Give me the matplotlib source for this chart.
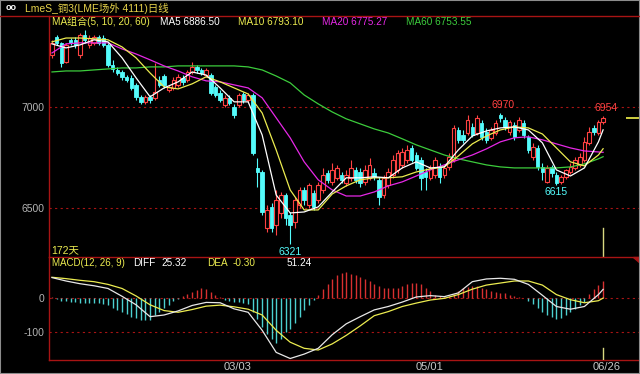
import numpy as np
import matplotlib
matplotlib.use("Agg")
import matplotlib.pyplot as plt
from matplotlib.patches import Rectangle, Polygon
from matplotlib.lines import Line2D

plt.rcParams['font.family'] = ['Liberation Sans', 'Noto Sans CJK SC', 'DejaVu Sans']
plt.rcParams['axes.unicode_minus'] = False

# daily candles, LME copper 3M (one value per trading day)
opens = [7257, 7346, 7317, 7223, 7332, 7332, 7257, 7356, 7307, 7317,
         7346, 7341, 7307, 7208, 7183, 7173, 7149, 7144, 7109, 7050,
         7025, 7050, 7045, 7134, 7153, 7084, 7094, 7109, 7144, 7134,
         7173, 7198, 7183, 7158, 7158, 7099, 7069, 7010, 7045, 7000,
         7010, 7064, 7035, 7059, 6698, 6678, 6401, 6505, 6416, 6475,
         6564, 6465, 6431, 6515, 6589, 6515, 6574, 6540, 6589, 6673,
         6629, 6649, 6663, 6624, 6649, 6688, 6678, 6629, 6649, 6673,
         6639, 6564, 6614, 6663, 6688, 6713, 6738, 6797, 6762, 6738,
         6678, 6649, 6663, 6703, 6663, 6703, 6738, 6886, 6861, 6871,
         6901, 6871, 6921, 6876, 6847, 6871, 6960, 6936, 6876, 6911,
         6886, 6921, 6852, 6753, 6797, 6703, 6629, 6703, 6663, 6629,
         6654, 6678, 6698, 6713, 6738, 6822, 6896, 6871, 6926]
closes = [7317, 7317, 7218, 7307, 7317, 7307, 7356, 7332, 7341, 7346,
          7317, 7307, 7208, 7188, 7168, 7149, 7134, 7094, 7050, 7025,
          7050, 7035, 7074, 7109, 7109, 7099, 7134, 7149, 7124, 7173,
          7198, 7183, 7168, 7183, 7069, 7059, 7035, 7045, 7020, 6960,
          7059, 7035, 7059, 6772, 6678, 6480, 6490, 6401, 6540, 6564,
          6450, 6416, 6540, 6589, 6540, 6614, 6505, 6614, 6663, 6639,
          6688, 6698, 6639, 6663, 6698, 6639, 6624, 6688, 6713, 6654,
          6555, 6649, 6678, 6738, 6772, 6777, 6787, 6738, 6698, 6649,
          6654, 6698, 6738, 6654, 6698, 6753, 6896, 6837, 6837, 6936,
          6861, 6946, 6852, 6837, 6886, 6921, 6946, 6901, 6926, 6852,
          6936, 6861, 6787, 6802, 6703, 6678, 6698, 6673, 6624, 6654,
          6688, 6703, 6738, 6753, 6827, 6876, 6876, 6926, 6946]
highs = [7332, 7356, 7322, 7317, 7341, 7346, 7366, 7381, 7356, 7356,
         7356, 7356, 7317, 7233, 7198, 7183, 7158, 7158, 7119, 7059,
         7059, 7059, 7218, 7153, 7163, 7109, 7149, 7163, 7158, 7183,
         7223, 7208, 7193, 7193, 7168, 7109, 7084, 7059, 7059, 7015,
         7069, 7074, 7069, 7069, 6748, 6688, 6515, 6525, 6589, 6579,
         6574, 6480, 6555, 6604, 6604, 6624, 6589, 6629, 6698, 6688,
         6723, 6713, 6678, 6688, 6738, 6703, 6698, 6713, 6748, 6698,
         6654, 6663, 6698, 6762, 6787, 6797, 6812, 6812, 6777, 6753,
         6698, 6713, 6753, 6723, 6713, 6772, 6911, 6901, 6886, 6960,
         6921, 6960, 6936, 6896, 6901, 6936, 6970, 6951, 6936, 6926,
         6951, 6936, 6861, 6822, 6812, 6723, 6713, 6713, 6678, 6663,
         6693, 6723, 6753, 6772, 6852, 6901, 6911, 6936, 6954]
lows = [7243, 7307, 7198, 7218, 7307, 7292, 7243, 7317, 7292, 7307,
        7307, 7297, 7198, 7173, 7158, 7134, 7124, 7084, 7035, 7015,
        7015, 7020, 7035, 7099, 7094, 7074, 7084, 7099, 7109, 7124,
        7163, 7168, 7158, 7149, 7059, 7050, 7025, 7000, 7010, 6946,
        7000, 7020, 7025, 6762, 6604, 6465, 6381, 6381, 6366, 6450,
        6416, 6321, 6401, 6500, 6515, 6500, 6490, 6525, 6574, 6624,
        6614, 6639, 6624, 6609, 6634, 6624, 6604, 6614, 6639, 6639,
        6515, 6550, 6599, 6649, 6673, 6698, 6723, 6728, 6688, 6589,
        6589, 6639, 6649, 6624, 6649, 6688, 6728, 6822, 6822, 6861,
        6852, 6861, 6837, 6822, 6837, 6861, 6926, 6886, 6861, 6837,
        6876, 6847, 6772, 6738, 6688, 6639, 6624, 6654, 6615, 6619,
        6644, 6668, 6688, 6703, 6728, 6812, 6861, 6861, 6916]

# indicator lines read every 3 trading days (plus the last day)
line_days = list(range(0, 118, 3)) + [118]
ma5 = [7312, 7292, 7307, 7332, 7322, 7243, 7144, 7050, 7094, 7124,
       7173, 7158, 7094, 7025, 7025, 6861, 6564, 6475, 6480, 6505,
       6579, 6649, 6649, 6654, 6649, 6698, 6728, 6698, 6703, 6787,
       6856, 6881, 6896, 6901, 6886, 6822, 6688, 6658, 6698, 6827, 6886.5]
ma10 = [7322, 7341, 7341, 7337, 7332, 7297, 7243, 7168, 7099, 7089,
        7114, 7149, 7124, 7094, 7064, 6970, 6787, 6589, 6490, 6490,
        6569, 6609, 6639, 6649, 6649, 6654, 6678, 6693, 6703, 6757,
        6817, 6856, 6886, 6901, 6896, 6866, 6797, 6728, 6708, 6762, 6793.1]
ma20 = [7267, 7312, 7317, 7317, 7317, 7287, 7262, 7233, 7203, 7178,
        7149, 7129, 7124, 7109, 7094, 7045, 6946, 6847, 6728, 6639,
        6589, 6559, 6559, 6579, 6609, 6629, 6658, 6688, 6713, 6738,
        6762, 6792, 6827, 6847, 6852, 6837, 6817, 6797, 6782, 6777, 6775.27]
ma60 = [7173, 7178, 7178, 7183, 7188, 7193, 7193, 7198, 7198, 7203,
        7203, 7203, 7203, 7203, 7198, 7183, 7153, 7119, 7059, 7015,
        6975, 6941, 6916, 6891, 6871, 6842, 6812, 6787, 6762, 6743,
        6728, 6713, 6703, 6698, 6698, 6698, 6698, 6703, 6718, 6743, 6753.55]
diff = [60, 50, 42, 36, 28, 5, -20, -55, -50, -38,
        -22, -13, -14, -32, -42, -95, -160, -178, -165, -148,
        -108, -76, -55, -35, -25, -12, 3, 7, 4, 15,
        48, 56, 58, 55, 40, 8, -25, -33, -25, 10, 25.32]
dea = [61, 57, 52, 48, 40, 28, 6, -20, -37, -42,
       -34, -24, -21, -26, -33, -50, -95, -130, -148, -153,
       -135, -110, -82, -52, -40, -25, -15, -6, -1, 10,
       26, 38, 44, 50, 50, 38, 10, -5, -14, -8, -0.30]
macd_bar = [2, -3, -8, -10, -12, -13, -14, -14, -15, -14,
            -15, -17, -22, -28, -35, -42, -48, -55, -60, -65,
            -66, -64, -50, -40, -30, -20, -10, -3, 5, 12,
            18, 24, 28, 26, 18, 10, 4, -5, -10, -12,
            -12, -14, -18, -40, -62, -85, -105, -122, -132, -120,
            -100, -90, -75, -55, -35, -20, -5, 8, 25, 40,
            55, 68, 75, 76, 72, 68, 62, 55, 50, 42,
            35, 30, 28, 28, 30, 35, 42, 45, 45, 40,
            30, 20, 10, 6, 4, 5, 12, 20, 28, 33,
            36, 35, 30, 25, 20, 18, 16, 14, 10, 6,
            4, 0, -8, -18, -30, -40, -50, -56, -62, -58,
            -50, -42, -32, -22, -12, 12, 25, 38, 51.24]

date_ticks = [39, 80, 118]
date_labels = ['03/03', '05/01', '06/26']
marked = [(96, 'high'), (118, 'high'), (108, 'low'), (51, 'low')]

RED = '#ff4242'
CYAN = '#54fcfc'
FRAME = '#a81414'
YEL = '#ecec50'
MAG = '#e628e6'
GRN = '#3ccc3c'
GREY = '#b4b4b4'

W, H = 640, 374
fig = plt.figure(figsize=(6.4, 3.74), dpi=100, facecolor='black')


def fpos(x0, y0, x1, y1):
    return [x0 / W, 1 - y1 / H, (x1 - x0) / W, (y1 - y0) / H]


ax = fig.add_axes(fpos(49, 16, 640, 257))
ax2 = fig.add_axes(fpos(49, 257, 640, 360))
for a in (ax, ax2):
    a.set_facecolor('black')
    a.set_xlim(-0.64, 125.9)
    for s in a.spines.values():
        s.set_color(FRAME)
        s.set_linewidth(1)
    a.spines['right'].set_visible(False)
    a.tick_params(length=0, labelcolor=GREY, labelsize=7.5, pad=3)
ax.spines['top'].set_visible(False)
ax.spines['bottom'].set_visible(False)

# price panel
ax.set_ylim(6257, 7450)
ax.set_xticks([])
ax.set_yticks([6500, 7000])
ax.set_yticklabels(['6500', '7000'])
for lvl in (6500, 7000):
    ax.axhline(lvl, color=FRAME, lw=0.8, ls=(0, (2, 3)), zorder=1)

bw = 0.76
for i in range(len(closes)):
    o, h, l, c = opens[i], highs[i], lows[i], closes[i]
    if c >= o:
        ax.vlines(i, c, h, color=RED, lw=0.8, zorder=2)
        ax.vlines(i, l, o, color=RED, lw=0.8, zorder=2)
        ax.add_patch(Rectangle((i - bw / 2, o), bw, max(c - o, 2), facecolor='black',
                               edgecolor=RED, lw=0.8, zorder=2))
    else:
        ax.vlines(i, l, h, color=CYAN, lw=0.8, zorder=2)
        ax.add_patch(Rectangle((i - bw / 2, c), bw, o - c, facecolor=CYAN,
                               edgecolor=CYAN, lw=0.6, zorder=2))

ax.plot(line_days, ma60, color=GRN, lw=0.9, zorder=3)
ax.plot(line_days, ma20, color=MAG, lw=0.9, zorder=3)
ax.plot(line_days, ma10, color=YEL, lw=0.9, zorder=3)
ax.plot(line_days, ma5, color='white', lw=0.9, zorder=3)

for i, kind in marked:
    if kind == 'high':
        ax.annotate(f"{highs[i]}", (i, highs[i]), xytext=(2, 2), textcoords='offset points',
                    ha='center', va='bottom', color=RED, fontsize=7.5)
    else:
        ax.annotate(f"{lows[i]}", (i, lows[i]), xytext=(0, -2), textcoords='offset points',
                    ha='center', va='top', color=CYAN, fontsize=7.5)

ax.text(0.003, 0.03, '172天', transform=ax.transAxes, color=YEL, fontsize=7.5,
        ha='left', va='center')
ax.hlines(closes[-1], 122.9, 125.9, color='#d0d040', lw=1.4, zorder=3)
ax.plot([len(closes) - 1] * 2, [0, 0.12], transform=ax.get_xaxis_transform(),
        color='#d8d880', lw=1, zorder=4)

# MACD panel
ax2.set_ylim(-182.4, 120.6)
ax2.set_yticks([-100, 0])
ax2.set_yticklabels(['-100', '0'])
ax2.set_xticks(np.array(date_ticks) + 0.8)
ax2.set_xticklabels(date_labels, fontsize=8, color='#c8c8c8')
ax2.tick_params(axis='x', pad=1.5)
for lvl in (-100, 0):
    ax2.axhline(lvl, color=FRAME, lw=0.8, ls=(0, (2, 3)), zorder=1)
bar_days = np.arange(len(macd_bar))
bar_vals = np.array(macd_bar)
ax2.vlines(bar_days, 0, bar_vals, colors=np.where(bar_vals > 0, '#d83030', '#4cd0d0'),
           lw=1, zorder=2)
ax2.plot(line_days, dea, color=YEL, lw=0.9, zorder=3)
ax2.plot(line_days, diff, color='#e8e8e8', lw=0.9, zorder=3)
ax2.plot([len(closes) - 1] * 2, [0, 0.117], transform=ax2.get_xaxis_transform(),
         color='#d8d880', lw=1, zorder=4)

# header texts


def ftext(x, y, s, color, size=7.2, **kw):
    fig.text(x / W, 1 - y / H, s, color=color, fontsize=size, ha='left', va='center', **kw)


ftext(6, 8, 'oo', 'white', size=6.5, fontweight='bold')
ftext(25, 8, 'LmeS_铜3(LME场外 4111)日线', '#e6d24a', size=7.5)
ftext(52, 22, 'MA组合(5, 10, 20, 60)', YEL)
ftext(160, 22, f'MA5 {ma5[-1]:.2f}', 'white')
ftext(238, 22, f'MA10 {ma10[-1]:.2f}', YEL)
ftext(322, 22, f'MA20 {ma20[-1]:.2f}', MAG)
ftext(406, 22, f'MA60 {ma60[-1]:.2f}', GRN)

ftext(52, 263, 'MACD(12, 26, 9)', YEL, size=7)
ftext(133, 263, 'DIFF', 'white')
ftext(161, 263, f'{diff[-1]:.2f}', 'white')
ftext(207, 263, 'DEA', YEL)
ftext(233, 263, f'{dea[-1]:.2f}', YEL)
ftext(287, 263, f'{macd_bar[-1]:.2f}', 'white')

fig.add_artist(Line2D([0, 1], [1 - 16 / H] * 2, color=FRAME, lw=1))
fig.add_artist(Polygon([[633 / W, 1 - 257 / H], [640 / W, 1 - 257 / H], [640 / W, 1 - 263 / H]],
                       closed=True, color=FRAME, transform=fig.transFigure))
fig.add_artist(Rectangle((0, 0), 1, 1, transform=fig.transFigure, fill=False,
                         edgecolor='#8c8c8c', lw=1.5))

fig.savefig('out.png', dpi=100, facecolor='black')
